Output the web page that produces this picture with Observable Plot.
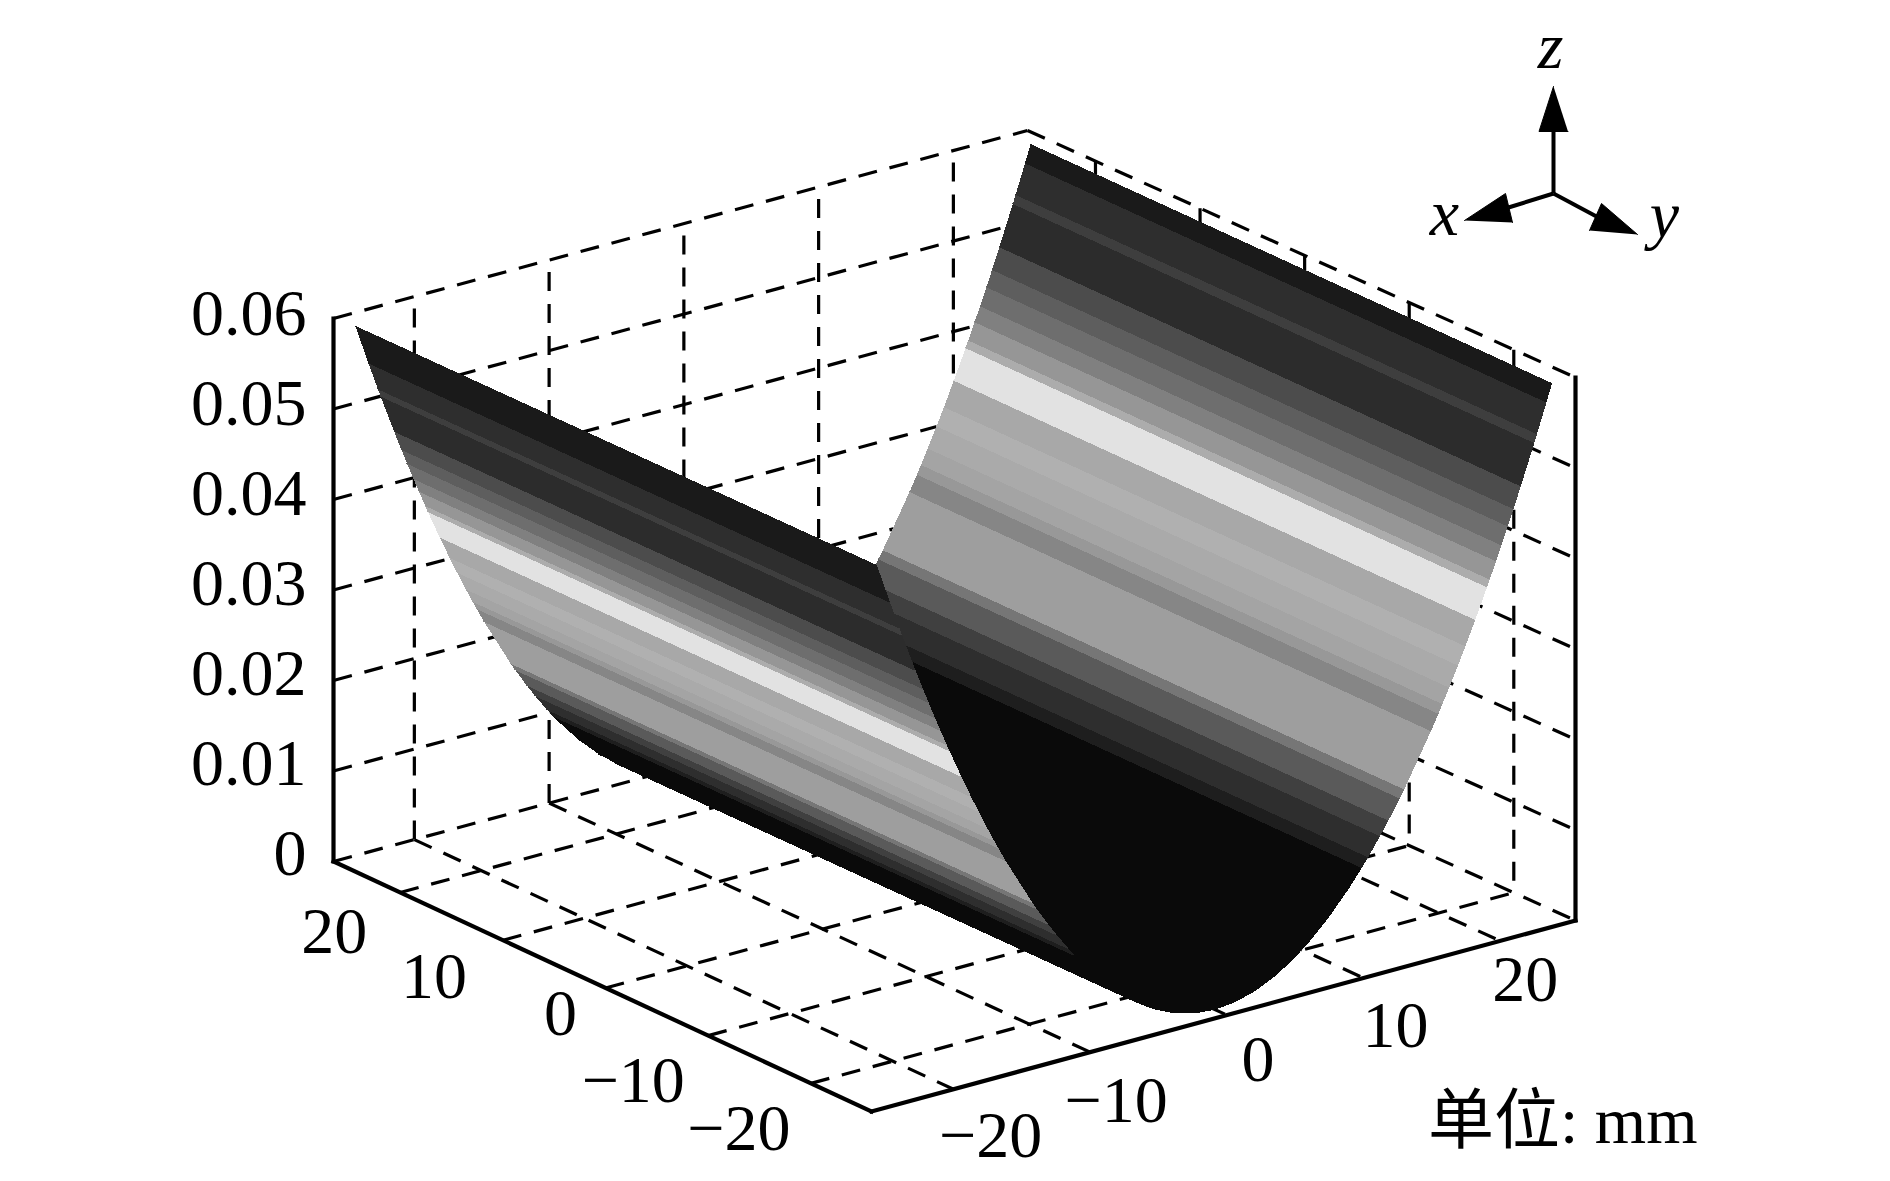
<!DOCTYPE html>
<html>
<head>
<meta charset="utf-8">
<style>html,body{margin:0;padding:0;background:#fff;overflow:hidden}</style>
<script src="https://cdn.jsdelivr.net/npm/d3@7"></script>
<script src="https://cdn.jsdelivr.net/npm/@observablehq/plot@0.6"></script>
</head>
<body>
<script>
// ---------- data ----------
const uTicks = [20, 10, 0, -10, -20];
const vTicks = [-20, -10, 0, 10, 20];
const zTicks = [0, 0.01, 0.02, 0.03, 0.04, 0.05, 0.06];
const zTickLabels = ["0", "0.01", "0.02", "0.03", "0.04", "0.05", "0.06"];
const unitLabel = "单位: mm";
const triadNames = ["x", "y", "z"];

// inner wall of the trough: distance from the centre line (mm), height (mm)
const innerV = [0, 1.5, 3, 4.5, 5.74, 7, 8.5, 10, 10.93, 11.4, 12.28, 12.9, 13.74, 14.07, 16.05, 16.6, 16.9, 17.4, 18.05, 18.6, 19.33, 20.2, 20.4, 20.87, 21.27, 21.74, 22.16, 22.7, 23.7, 23.9, 24.6, 25];
const innerZ = [0, 0.00022, 0.00086, 0.00194, 0.00316, 0.0047, 0.00694, 0.0096, 0.01147, 0.01248, 0.01448, 0.01598, 0.01812, 0.019, 0.02473, 0.02645, 0.02742, 0.02906, 0.03128, 0.03321, 0.03587, 0.03917, 0.03995, 0.04181, 0.04343, 0.04537, 0.04714, 0.04947, 0.05392, 0.05484, 0.0581, 0.06];
// near wall seen from outside: its strips sit a little lower
const outerV = [5.74, 7, 8.5, 10, 10.38, 10.85, 11.73, 12.35, 13.19, 13.52, 15.5, 16.05, 16.35, 16.85, 17.5, 18.05, 18.78, 19.65, 19.85, 20.32, 20.72, 21.19, 21.61, 22.15, 23.15, 23.35, 24.05, 25];
const outerZ = [0.00316, 0.0047, 0.00694, 0.0096, 0.01034, 0.0113, 0.01321, 0.01464, 0.0167, 0.01755, 0.02306, 0.02473, 0.02566, 0.02726, 0.0294, 0.03128, 0.03386, 0.03707, 0.03783, 0.03964, 0.04121, 0.04311, 0.04483, 0.0471, 0.05145, 0.05234, 0.05553, 0.06];
// gray level of each strip, from the black bottom out to the rim
const stripGray = [30, 46, 64, 90, 118, 158, 134, 152, 164, 170, 176, 168, 226, 172, 150, 128, 110, 94, 76, 44, 62, 46, 26];
const bottomGray = 10;
const surfaceU = [25, -25];

// ---------- view ----------
const W = 1890, H = 1181;
const uMax = 26.5, uMin = -25.9, vMin = -26, vMax = 25.5, zMax = 0.06;
const floorCorners = {A: [333, 861], B: [871, 1111], C: [1575, 920], D: [1027, 673]};
const zPerUnit = 9050;
function project(u, v, z) {
  const s = (uMax - u) / (uMax - uMin), t = (v - vMin) / (vMax - vMin);
  const {A, B, C, D} = floorCorners;
  const f = i => (1 - s) * ((1 - t) * A[i] + t * D[i]) + s * ((1 - t) * B[i] + t * C[i]);
  return {x: f(0), y: f(1) - z * zPerUnit};
}
function projectSurface(u, v, z) {
  return {x: 953 - 10.42 * u + 13.5 * v, y: 889.5 - 4.78 * u - 3.64 * v - z * 8917};
}
const serif = '"Liberation Serif","Times New Roman",serif';
const fontPx = 66;

// ---------- grid ----------
function seg(a, b) { const p = project(...a), q = project(...b); return {x1: p.x, y1: p.y, x2: q.x, y2: q.y}; }
const dashed = [];
vTicks.forEach(v => {
  dashed.push(seg([uMax, v, 0], [uMax, v, zMax]));
  dashed.push(seg([uMax, v, 0], [uMin, v, 0]));
});
uTicks.forEach(u => {
  dashed.push(seg([u, vMax, zMax], [u, vMax, 0]));
  dashed.push(seg([u, vMin, 0], [u, vMax, 0]));
});
zTicks.forEach(z => {
  dashed.push(seg([uMax, vMin, z], [uMax, vMax, z]));
  dashed.push(seg([uMax, vMax, z], [uMin, vMax, z]));
});
const solid = [
  seg([uMax, vMin, 0], [uMax, vMin, zMax]),
  seg([uMax, vMin, 0], [uMin, vMin, 0]),
  seg([uMin, vMin, 0], [uMin, vMax, 0]),
  seg([uMin, vMax, 0], [uMin, vMax, zMax])
];

// ---------- surface ----------
const quads = [];
function addQuad(v0, z0, v1, z1, g) {
  const id = quads.length;
  const shade = d3.rgb(g, g, g).formatHex();
  [[surfaceU[0], v0, z0], [surfaceU[1], v0, z0], [surfaceU[1], v1, z1], [surfaceU[0], v1, z1]]
    .forEach(c => quads.push({...projectSurface(...c), id, shade}));
}
const innerGray = i => i < 8 ? bottomGray : stripGray[i - 8];
const outerGray = i => i < 4 ? bottomGray : stripGray[i - 4];
// inside of the trough first: from the fold up the far wall
for (let i = 4; i > 0; i--) addQuad(-innerV[i], innerZ[i], -innerV[i - 1], innerZ[i - 1], bottomGray);
for (let i = 0; i < innerV.length - 1; i++) addQuad(innerV[i], innerZ[i], innerV[i + 1], innerZ[i + 1], innerGray(i));
// outside of the near wall on top
for (let i = 0; i < outerV.length - 1; i++) addQuad(-outerV[i], outerZ[i], -outerV[i + 1], outerZ[i + 1], outerGray(i));

// ---------- labels ----------
const zLabels = zTicks.map((z, i) => { const p = project(uMax, vMin, z); return {x: p.x - 27, y: p.y - 5 - (6 - i) * 0.4, t: zTickLabels[i]}; });
const uNudge = [[-66, 39], [-69, 37], [-45, 26], [-75, 45], [-72, 46]];
const vNudge = [[37, 47], [26, 49], [31, 45], [32, 48], [25, 39]];
const fmt = n => n < 0 ? "\u2212" + (-n) : String(n);
const uLabels = uTicks.map((u, i) => { const p = project(u, vMin, 0); return {x: p.x + uNudge[i][0], y: p.y + uNudge[i][1], t: fmt(u)}; });
const vLabels = vTicks.map((v, i) => { const p = project(uMin, v, 0); return {x: p.x + vNudge[i][0], y: p.y + vNudge[i][1], t: fmt(v)}; });

// ---------- orientation triad (sheet units) ----------
const hub = {x: 1553, y: 193};
const triadStems = [[1508, 207], [1596, 216], [1553, 131]].map(([x, y]) => ({x1: hub.x, y1: hub.y, x2: x, y2: y}));
const triadHeads = [
  [[1464, 220], [1505, 193], [1512, 222]],
  [[1637, 234], [1601, 203], [1589, 230]],
  [[1553, 86], [1538.5, 131], [1567.5, 131]]
].flatMap((tri, id) => tri.map(([x, y]) => ({x, y, id})));
const triadText = [{x: 1444, y: 213}, {x: 1664, y: 215}, {x: 1550, y: 46}].map((p, i) => ({...p, t: triadNames[i]}));

const chart = Plot.plot({
  width: W, height: H,
  marginTop: 0, marginRight: 0, marginBottom: 0, marginLeft: 0,
  x: {domain: [0, W], range: [0, W], axis: null},
  y: {domain: [0, H], range: [0, H], axis: null},
  color: {type: "identity"},
  style: {background: "#fff"},
  marks: [
    Plot.link(dashed, {x1: "x1", y1: "y1", x2: "x2", y2: "y2", stroke: "#000", strokeWidth: 3.2, strokeDasharray: "19,13", strokeLinecap: "butt"}),
    Plot.line(quads, {x: "x", y: "y", z: "id", fill: "shade", stroke: "shade", strokeWidth: 1, shapeRendering: "crispEdges"}),
    Plot.link(solid, {x1: "x1", y1: "y1", x2: "x2", y2: "y2", stroke: "#000", strokeWidth: 4.2, strokeLinecap: "square"}),
    Plot.text(zLabels, {x: "x", y: "y", text: "t", textAnchor: "end", lineAnchor: "middle", fontFamily: serif, fontSize: fontPx, fill: "#000"}),
    Plot.text(uLabels, {x: "x", y: "y", text: "t", textAnchor: "middle", lineAnchor: "middle", fontFamily: serif, fontSize: fontPx, fill: "#000"}),
    Plot.text(vLabels, {x: "x", y: "y", text: "t", textAnchor: "middle", lineAnchor: "middle", fontFamily: serif, fontSize: fontPx, fill: "#000"}),
    Plot.text([{x: 1697, y: 1121, t: unitLabel}], {x: "x", y: "y", text: "t", textAnchor: "end", lineAnchor: "middle", fontFamily: '"Liberation Serif","Noto Sans CJK SC",serif', fontSize: fontPx, fill: "#000"}),
    Plot.link(triadStems, {x1: "x1", y1: "y1", x2: "x2", y2: "y2", stroke: "#000", strokeWidth: 4}),
    Plot.line(triadHeads, {x: "x", y: "y", z: "id", fill: "#000", stroke: "#000", strokeWidth: 1}),
    Plot.text(triadText, {x: "x", y: "y", text: "t", textAnchor: "middle", lineAnchor: "middle", fontFamily: serif, fontStyle: "italic", fontSize: 66, fill: "#000"})
  ]
});
document.body.appendChild(chart);
</script>
</body>
</html>
